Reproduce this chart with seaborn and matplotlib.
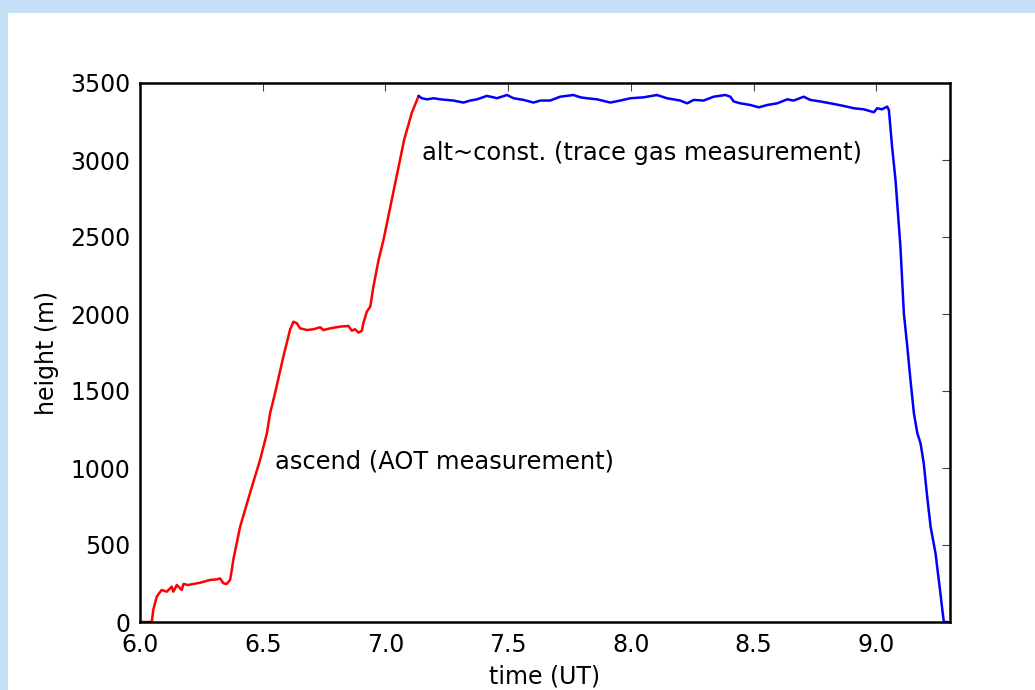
import matplotlib
matplotlib.use("Agg")
import matplotlib.pyplot as plt
from matplotlib.patches import Rectangle
import seaborn as sns

# ascent part of the flight (red)
time_red = [6.000, 6.048, 6.054, 6.068, 6.088, 6.109, 6.129, 6.136, 6.150, 6.170,
            6.177, 6.197, 6.217, 6.245, 6.285, 6.313, 6.326, 6.340, 6.353, 6.367,
            6.374, 6.380, 6.408, 6.448, 6.489, 6.517, 6.530, 6.550, 6.584, 6.611,
            6.625, 6.639, 6.652, 6.680, 6.707, 6.734, 6.747, 6.775, 6.815, 6.849,
            6.863, 6.876, 6.890, 6.904, 6.910, 6.924, 6.938, 6.951, 6.972, 6.992,
            7.076, 7.107, 7.135]
height_red = [0, 0, 78, 164, 208, 197, 229, 197, 240, 208,
              247, 240, 247, 255, 273, 277, 283, 251, 247, 273,
              338, 403, 619, 836, 1052, 1225, 1355, 1485, 1723, 1896,
              1950, 1940, 1907, 1896, 1901, 1914, 1896, 1907, 1918, 1922,
              1892, 1901, 1879, 1892, 1940, 2015, 2048, 2178, 2351, 2481,
              3130, 3305, 3416]

# constant altitude + descent (blue)
time_blue = [7.135, 7.148, 7.169, 7.196, 7.223, 7.250, 7.277, 7.318, 7.345, 7.373,
             7.413, 7.440, 7.454, 7.495, 7.522, 7.563, 7.603, 7.631, 7.671, 7.712,
             7.766, 7.794, 7.821, 7.862, 7.916, 7.957, 7.998, 8.052, 8.106, 8.147,
             8.201, 8.229, 8.256, 8.296, 8.337, 8.385, 8.405, 8.419, 8.446, 8.487,
             8.521, 8.555, 8.596, 8.637, 8.663, 8.704, 8.731, 8.772, 8.826, 8.867,
             8.908, 8.949, 8.990, 9.003, 9.023, 9.044, 9.051, 9.064, 9.078, 9.098,
             9.112, 9.126, 9.139, 9.153, 9.167, 9.180, 9.193, 9.207, 9.221, 9.241,
             9.261, 9.268, 9.275, 9.291]
height_blue = [3416, 3401, 3394, 3401, 3394, 3390, 3386, 3373, 3386, 3394,
               3416, 3407, 3401, 3422, 3401, 3390, 3373, 3386, 3386, 3411,
               3422, 3407, 3401, 3394, 3373, 3386, 3401, 3407, 3422, 3401,
               3386, 3368, 3390, 3386, 3411, 3422, 3411, 3380, 3368, 3357,
               3342, 3357, 3368, 3394, 3386, 3411, 3390, 3380, 3364, 3351,
               3336, 3329, 3310, 3336, 3329, 3347, 3325, 3087, 2870, 2437,
               2005, 1788, 1571, 1355, 1225, 1160, 1031, 814, 619, 446,
               186, 89, 0, 0]

x_ticks = [6.0, 6.5, 7.0, 7.5, 8.0, 8.5, 9.0]
y_ticks = [0, 500, 1000, 1500, 2000, 2500, 3000, 3500]

sns.set_style("white")
plt.rcParams['font.family'] = ['DejaVu Sans']
plt.rcParams['text.color'] = 'black'
plt.rcParams['axes.labelcolor'] = 'black'

fig = plt.figure(figsize=(10.35, 6.9), dpi=100, facecolor='#c6e0f9')
# white page area inside the light blue frame
fig.patches.append(Rectangle((8 / 1035, 0), 1 - 8 / 1035, 1 - 12.5 / 690,
                             transform=fig.transFigure, facecolor='white',
                             edgecolor='none', zorder=-10))
ax = fig.add_axes([140 / 1035, 68 / 690, 810 / 1035, 539 / 690])
ax.set_zorder(5)

sns.lineplot(x=time_red, y=height_red, color='red', lw=1.8, sort=False,
             estimator=None, ax=ax)
sns.lineplot(x=time_blue, y=height_blue, color='blue', lw=1.8, sort=False,
             estimator=None, ax=ax)

ax.set_xlim(6.0, 9.3)
ax.set_ylim(0, 3500)
ax.set_xticks(x_ticks)
ax.set_yticks(y_ticks)
ax.set_xticklabels([f"{t:.1f}" for t in x_ticks])
ax.tick_params(direction='in', length=6, width=0.8, color='#444444',
               labelcolor='black', top=True, right=True, labelsize=17)
ax.tick_params(axis='x', pad=8)
ax.tick_params(axis='y', pad=7)
for s in ax.spines.values():
    s.set_visible(True)
    s.set_linewidth(1.8)
    s.set_color('black')

ax.set_xlabel('time (UT)', fontsize=17, labelpad=5)
ax.set_ylabel('height (m)', fontsize=17, labelpad=8)

ax.text(6.55, 1045, 'ascend (AOT measurement)', fontsize=17.4, va='center')
ax.text(7.15, 3046, 'alt~const. (trace gas measurement)', fontsize=17.4, va='center')

fig.savefig('out.png', dpi=100, facecolor=fig.get_facecolor())
